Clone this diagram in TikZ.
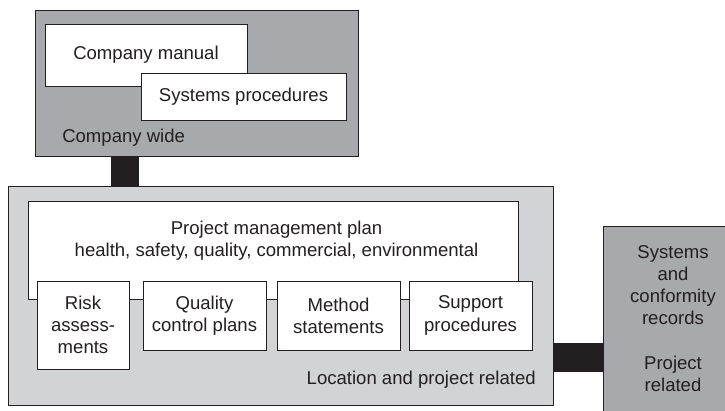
\documentclass[tikz,border=0pt]{standalone}
\usepackage{fontspec}
\setmainfont{Liberation Sans}
\definecolor{ink}{HTML}{231F20}
\definecolor{steel}{HTML}{A7A9AC}
\definecolor{mist}{HTML}{D1D3D4}
\tikzset{
  frame/.style={draw=ink,line width=0.7pt,inner sep=0pt},
  darkbox/.style={frame,fill=steel},
  lightbox/.style={frame,fill=mist},
  whitebox/.style={frame,fill=white,align=center},
  tag/.style={inner sep=0pt,align=center},
  bridge/.style={ink,line width=#1,line cap=butt},
}

\begin{document}
\begin{tikzpicture}[x=0.25mm,y=-0.25mm,font=\fontsize{13.2}{15.8}\selectfont,text=ink]
  \useasboundingbox (0,0) rectangle (725,411);

  % Company wide block
  \node[darkbox,minimum width=80.75mm,minimum height=36.5mm] (cw) at (196.5,83) {};
  \node[whitebox,minimum width=50.5mm,minimum height=15.5mm] (manual) at (146,55) {Company manual};
  \node[whitebox,minimum width=51.25mm,minimum height=11.75mm] (sysproc) at (243.5,96.5) {Systems procedures};
  \node[tag,anchor=west] (cwtag) at (62,138) {Company wide};

  % Location and project related block
  \node[lightbox,minimum width=136.25mm,minimum height=54.75mm] (lp) at (280.5,295.5) {};
  \node[whitebox,minimum width=122.5mm,minimum height=24.5mm] (pmp) at (273,250) {};
  \node[tag] (pmptext) at (276.5,240.5)
    {Project management plan\\health, safety, quality, commercial, environmental};
  \node[whitebox,minimum width=23mm,minimum height=22mm] (risk) at (83,325) {Risk\\assess-\\ments};
  \node[whitebox,minimum width=30.75mm,minimum height=17.25mm] (quality) at (204.5,315.5) {Quality\\control plans};
  \node[whitebox,minimum width=30.75mm,minimum height=17.25mm] (method) at (338.5,315.5) {Method\\statements};
  \node[whitebox,minimum width=30.75mm,minimum height=17.25mm] (support) at (470.5,315.5) {Support\\procedures};
  \node[tag,anchor=east] (lptag) at (536,380) {Location and project related};

  % Project related records, running off the page
  \node[darkbox,minimum width=35mm,minimum height=51mm,anchor=north west] (rec) at (603,226) {};
  \node[tag] (rectext) at (673,318.5)
    {Systems\\and\\conformity\\records\\[15.8pt]Project\\related};

  % black links between the blocks
  \coordinate (k1) at (125,170);
  \coordinate (k2) at (578,357.5);
  \draw[bridge=7mm] (cw.south -| k1) -- (lp.north -| k1);
  \draw[bridge=7.25mm] (lp.east |- k2) -- (rec.west |- k2);
\end{tikzpicture}
\end{document}
